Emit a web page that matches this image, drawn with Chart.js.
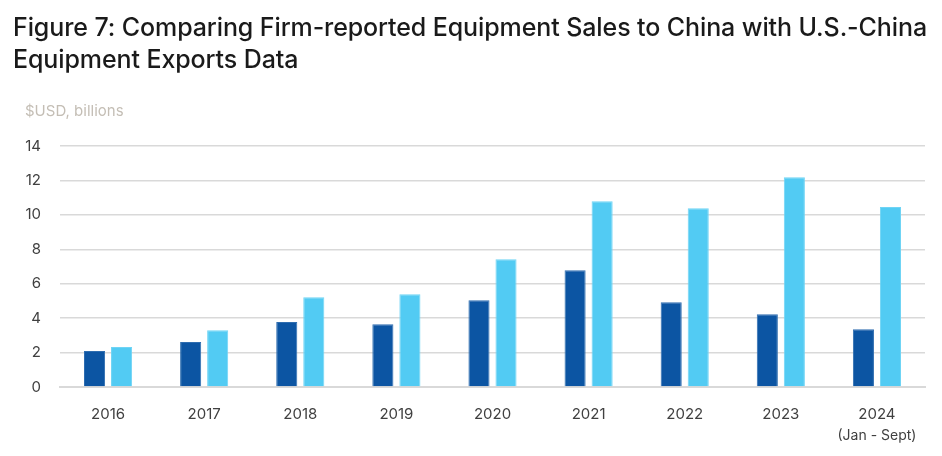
<!DOCTYPE html>
<html>
<head>
<meta charset="utf-8">
<script src="https://cdn.jsdelivr.net/npm/chart.js@4"></script>
<style>
  html, body { margin: 0; padding: 0; background: #ffffff; }
  #wrap { position: relative; width: 942px; height: 456px; overflow: hidden; }
  #title { position: absolute; left: 13px; top: 11px; width: 935px; white-space: nowrap;
    font-family: 'Inter', 'Roboto', sans-serif; font-weight: 500;
    font-size: 25px; line-height: 32px; color: #1a1a1a; letter-spacing: -0.1px; }
  #unit { position: absolute; left: 25px; top: 101px;
    font-family: 'Inter', 'Roboto', sans-serif;
    font-size: 15px; color: #c4beb5; }
  canvas { position: absolute; left: 0; top: 0; }
</style>
</head>
<body>
<div id="wrap">
  <canvas id="c" width="942" height="456"></canvas>
  <div id="title">Figure 7: Comparing Firm-reported Equipment Sales to China with U.S.-China<br>Equipment Exports Data</div>
  <div id="unit">$USD, billions</div>
</div>
<script>
const categories = ["2016", "2017", "2018", "2019", "2020", "2021", "2022", "2023", "2024"];
const lastCategoryNote = "(Jan - Sept)";
const firmReportedSales = [2.09, 2.61, 3.77, 3.65, 5.04, 6.78, 4.92, 4.23, 3.36];
const exportsData = [2.32, 3.30, 5.21, 5.39, 7.42, 10.79, 10.39, 12.18, 10.45];
const yTicks = [0, 2, 4, 6, 8, 10, 12, 14];

const FONT = "'Inter', 'Roboto', sans-serif";

const notePlugin = {
  id: 'note',
  afterDraw(chart) {
    const xs = chart.scales.x;
    const ctx = chart.ctx;
    ctx.save();
    ctx.font = "14px " + FONT;
    ctx.fillStyle = '#404040';
    ctx.textAlign = 'center';
    ctx.textBaseline = 'middle';
    ctx.fillText(lastCategoryNote, xs.getPixelForValue(categories.length - 1), xs.bottom - 20);
    ctx.restore();
  }
};

new Chart(document.getElementById('c'), {
  type: 'bar',
  data: {
    labels: categories,
    datasets: [
      { label: 'Firm-reported equipment sales to China', data: firmReportedSales,
        backgroundColor: '#0c55a3', borderColor: '#2e6db0', borderWidth: 1,
        categoryPercentage: 0.5625, barPercentage: 0.78 },
      { label: 'U.S.-China equipment exports', data: exportsData,
        backgroundColor: '#52cbf3', borderColor: '#6fd4f5', borderWidth: 1,
        categoryPercentage: 0.5625, barPercentage: 0.78 }
    ]
  },
  options: {
    responsive: false,
    animation: false,
    devicePixelRatio: 1,
    layout: { padding: { left: 0, right: 17, top: 146, bottom: 0 } },
    plugins: { legend: { display: false }, tooltip: { enabled: false }, title: { display: false } },
    scales: {
      x: {
        grid: { display: false, drawTicks: false },
        border: { display: true, color: '#d9d9d9', width: 2 },
        ticks: { color: '#404040', font: { family: FONT, size: 15 }, padding: 18, maxRotation: 0 },
        afterFit: (s) => { s.height = 69; }
      },
      y: {
        min: 0, max: 14,
        afterBuildTicks: (s) => { s.ticks = yTicks.map(v => ({ value: v })); },
        grid: { color: '#d9d9d9', lineWidth: 1.5, drawTicks: false },
        border: { display: false },
        ticks: { color: '#404040', font: { family: FONT, size: 15 }, padding: 19 },
        afterFit: (s) => { s.width = 60; }
      }
    }
  },
  plugins: [notePlugin]
});
</script>
</body>
</html>
